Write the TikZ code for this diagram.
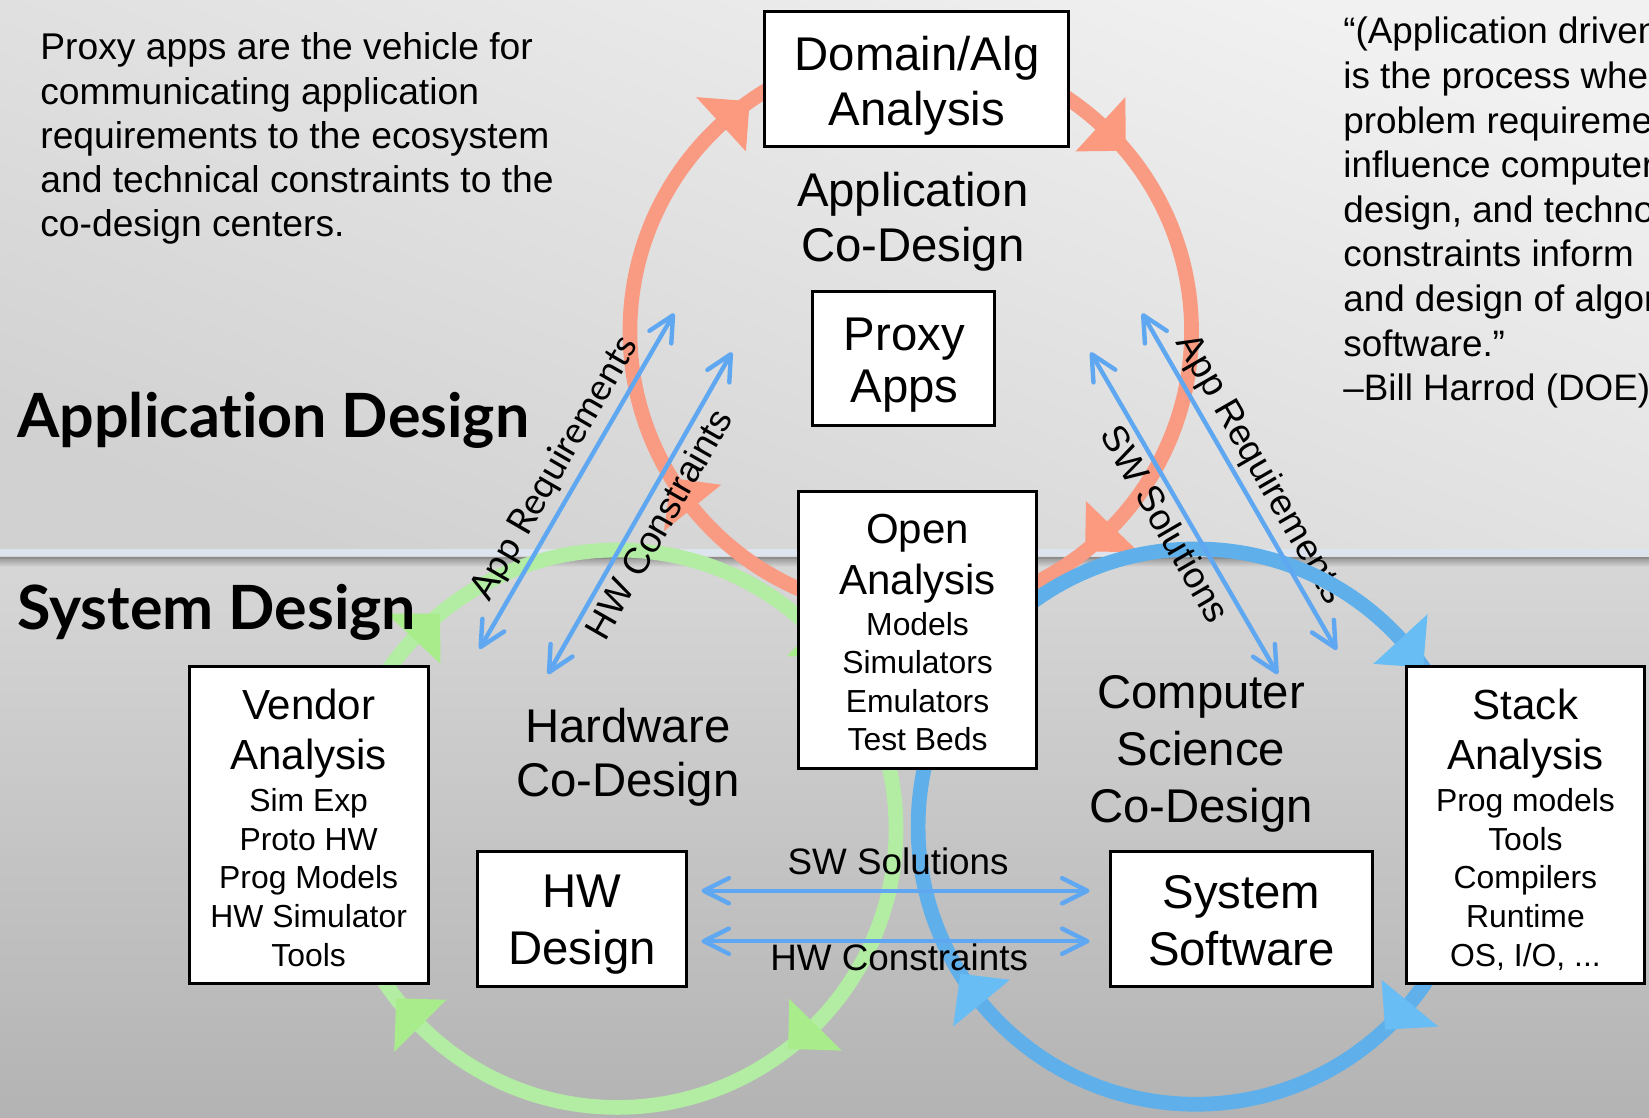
\documentclass[tikz,border=0pt]{standalone}
\usepackage{fontspec}
\setmainfont{Liberation Sans}
\newfontfamily\headfont{Lato}[Ligatures={NoCommon,NoRare,NoContextual}]
\usetikzlibrary{arrows.meta}

\definecolor{bgtop}{HTML}{F1F1F1}
\definecolor{bgmid}{HTML}{D1D1D1}
\definecolor{bglow}{HTML}{D7D7D7}
\definecolor{bgbot}{HTML}{B3B3B3}
\definecolor{ruleband}{HTML}{DEE4ED}
\definecolor{ruledark}{HTML}{8E8E8E}
\definecolor{ringred}{HTML}{F99B82}
\definecolor{headred}{HTML}{FC9A7F}
\definecolor{ringgreen}{HTML}{B3ECA3}
\definecolor{headgreen}{HTML}{A9EC8B}
\definecolor{ringblue}{HTML}{5FB0EA}
\definecolor{headblue}{HTML}{69BDF5}
\definecolor{linkblue}{HTML}{5FA8F1}

% font size with explicit line spacing
\newcommand{\fsz}[2]{\fontsize{#1}{#2}\selectfont}
% triangular head on a ring: centre, radius, tip angle, colour
\newcommand{\ringhead}[4]{%
  \fill[#4, shift={(#1)}] (#3:#2) -- ({#3-7.5}:{#2+35}) -- ({#3-7.5}:{#2-35}) -- cycle;}

\begin{document}
\begin{tikzpicture}[x=0.5pt, y=-0.5pt,
  box/.style={rectangle, draw=black, line width=1.4pt, fill=white, inner sep=0pt},
  ring/.style={line width=7pt},
  link/.style={draw=linkblue, line width=2.1pt, <->, >={Straight Barb[length=12pt,width=12pt,round]}},
  txt/.style={align=center, inner sep=0pt, anchor=north, text=black},
  tag/.style={font={\fsz{17.5pt}{21pt}}, sloped},
  headline/.style={anchor=base west, inner sep=0pt, font={\headfont\bfseries\fsz{29pt}{34pt}}}]

\useasboundingbox (0,0) rectangle (1568,1063);

% background: two bands split by a rule
\shade[top color=bgtop, bottom color=bgmid, shading angle=-20] (0,0) rectangle (1568,531);
\shade[top color=bglow, bottom color=bgbot] (0,531) rectangle (1568,1063);
\fill[ruleband] (0,522) rectangle (1568,529);
\fill[ruledark] (0,529.5) rectangle (1568,532);
\shade[top color=ruledark!70!bglow, bottom color=bglow] (0,532) rectangle (1568,539);

% ring centres
\coordinate (cRed) at (866,315);
\coordinate (cGreen) at (587,788);
\coordinate (cBlue) at (1137,786);

% hardware ring
\draw[ring, ringgreen] (cGreen) circle[radius=265];
\ringhead{cGreen}{265}{142.5}{headgreen}
\ringhead{cGreen}{265}{230.5}{headgreen}
\ringhead{cGreen}{265}{322}{headgreen}
\ringhead{cGreen}{265}{52.2}{headgreen}

% application ring
\draw[ring, ringred] (cRed) circle[radius=267];
\ringhead{cRed}{267}{148.5}{headred}
\ringhead{cRed}{267}{235}{headred}
\ringhead{cRed}{267}{320}{headred}
\ringhead{cRed}{267}{51.6}{headred}

% link end points
\coordinate (aLa) at (456,617);  \coordinate (aLb) at (641,298);
\coordinate (hLa) at (521,641);  \coordinate (hLb) at (696,335);
\coordinate (sRa) at (1037,335); \coordinate (sRb) at (1215,641);
\coordinate (aRa) at (1086,298); \coordinate (aRb) at (1271,618);
\coordinate (swa) at (667,847);  \coordinate (swb) at (1036,847);
\coordinate (hwa) at (667,895);  \coordinate (hwb) at (1036,895);

% this label sits under the software ring
\path (aRa) -- node[tag, above, inner sep=3pt] (tAppR) {App Requirements} (aRb);

% computer science ring
\draw[ring, ringblue] (cBlue) circle[radius=264];
\ringhead{cBlue}{264}{148}{headblue}
\ringhead{cBlue}{264}{325}{headblue}
\ringhead{cBlue}{264}{47}{headblue}

% exchanges between the design centres
\draw[link] (aLa) -- node[tag, above, inner sep=3pt, font={\headfont\fsz{17.5pt}{21pt}}] (tAppL) {App Requirements} (aLb);
\draw[link] (hLa) -- node[tag, below, inner sep=2.5pt] (tHwL) {HW Constraints} (hLb);
\draw[link] (sRa) -- node[tag, below, inner sep=2.5pt] (tSwR) {SW Solutions} (sRb);
\draw[link] (aRa) -- (aRb);
\draw[link] (swa) -- (swb);
\draw[link] (hwa) -- (hwb);
\node[txt, font={\fsz{17.5pt}{21pt}}] (tSwH) at (854,805.4) {SW Solutions};
\node[txt, font={\fsz{17.5pt}{21pt}}] (tHwH) at (855,897.4) {HW Constraints};

% boxes
\node[box, minimum width=144.5pt, minimum height=64pt] (domain) at (871.5,75) {};
\node[box, minimum width=86.5pt, minimum height=64pt] (proxy) at (859.5,341) {};
\node[box, minimum width=113.5pt, minimum height=132pt] (open) at (872.5,599) {};
\node[box, minimum width=113.5pt, minimum height=150.5pt] (vendor) at (293.5,784.5) {};
\node[box, minimum width=113.5pt, minimum height=150.5pt] (stack) at (1450.5,784.5) {};
\node[box, minimum width=99.5pt, minimum height=64pt] (hwd) at (553.5,874) {};
\node[box, minimum width=124.5pt, minimum height=64pt] (syssw) at (1180.5,874) {};

% box texts
\node[txt, font={\fsz{22.5pt}{26.5pt}}] (domainT) at (872,33.8) {Domain/Alg\\Analysis};
\node[txt, font={\fsz{22.5pt}{25pt}}] (proxyT) at (860,301.8) {Proxy\\Apps};
\node[txt, font={\fsz{20pt}{24pt}}] (openT) at (872.5,488.6) {Open\\Analysis};
\node[txt, font={\fsz{15.15pt}{18.15pt}}] (openL) at (872.5,582.1) {Models\\Simulators\\Emulators\\Test Beds};
\node[txt, font={\fsz{20pt}{24pt}}] (vendorT) at (293.5,654.6) {Vendor\\Analysis};
\node[txt, font={\fsz{15.15pt}{18.4pt}}] (vendorL) at (293.5,749.1) {Sim Exp\\Proto HW\\Prog Models\\HW Simulator\\Tools};
\node[txt, font={\fsz{20pt}{24pt}}] (stackT) at (1450.5,654.6) {Stack\\Analysis};
\node[txt, font={\fsz{15.15pt}{18.4pt}}] (stackL) at (1450.5,749.1) {Prog models\\Tools\\Compilers\\Runtime\\OS, I/O, ...};
\node[txt, font={\fsz{22.5pt}{27pt}}] (hwdT) at (553.5,831.8) {HW\\Design};
\node[txt, font={\fsz{22.5pt}{27pt}}] (sysswT) at (1180.5,831.8) {System\\Software};

% co-design centre names
\node[txt, font={\fsz{22.5pt}{26pt}}] (appCo) at (868,163.8) {Application\\Co-Design};
\node[txt, font={\fsz{22.5pt}{26pt}}] (hwCo) at (597,672.8) {Hardware\\Co-Design};
\node[txt, font={\fsz{22.5pt}{27pt}}] (csCo) at (1142,641.8) {Computer\\Science\\Co-Design};

% band headings
\node[headline] (appDesign) at (16,416) {Application Design};
\node[headline] (sysDesign) at (16,599) {System Design};

% side texts
\node[anchor=north west, align=left, inner sep=0pt, font={\fsz{17.7pt}{21pt}}] (blurb) at (38,31)
  {Proxy apps are the vehicle for\\communicating application\\requirements to the ecosystem\\and technical constraints to the\\co-design centers.};
\begin{scope}
  \clip (0,0) rectangle (1568,1063);
  \node[anchor=north west, align=left, inner sep=0pt, font={\fsz{17.5pt}{21.2pt}}] (quote) at (1277,16)
    {“(Application driven\\is the process where\\problem requirements\\influence computer\\design, and technology\\constraints inform\\and design of algorithms\\software.”\\–Bill Harrod (DOE)};
\end{scope}
\end{tikzpicture}
\end{document}
